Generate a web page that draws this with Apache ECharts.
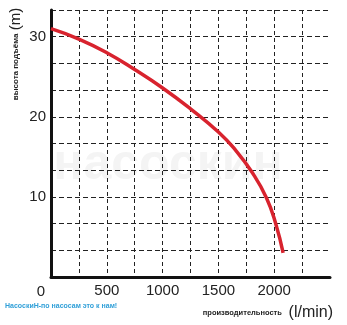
<!DOCTYPE html>
<html><head><meta charset="utf-8">
<script src="https://cdn.jsdelivr.net/npm/echarts@6/dist/echarts.min.js"></script>
<style>html,body{margin:0;padding:0;background:#fff}#c{width:347px;height:325px}</style>
</head><body><div id="c"></div>
<script>
var flow = [0, 250, 500, 750, 1000, 1250, 1500, 1650, 1800, 1930, 2015, 2080];
var head = [31.0, 29.7, 28.0, 25.9, 23.6, 21.0, 18.1, 15.9, 13.1, 9.9, 6.6, 3.0];
var xLabels = [500, 1000, 1500, 2000];
var yLabels = [10, 20, 30];
var yAxisTitle = 'высота подъёма';
var xAxisTitle = 'производительность';
var unitY = '(m)';
var unitX = '(l/min)';
var footer = 'НасоскиН-по насосам это к нам!';
var watermark = 'насоскин';

var chart = echarts.init(document.getElementById('c'));
var pts = flow.map(function (f, i) { return [f, head[i]]; });
chart.setOption({
  animation: false,
  backgroundColor: '#fff',
  grid: { left: 51, right: 17, top: 10, bottom: 48 },
  xAxis: {
    type: 'value', min: 0, max: 2500, interval: 250,
    axisLine: { show: true, lineStyle: { color: '#111', width: 3 } },
    axisTick: { show: false },
    splitLine: { show: true, showMinLine: false, showMaxLine: false, lineStyle: { color: '#222', width: 1, type: [4, 3] } },
    axisLabel: {
      margin: 6, color: '#222', fontSize: 15, fontFamily: 'Liberation Sans, Arial',
      showMaxLabel: false,
      formatter: function (v) { return xLabels.indexOf(Math.round(v)) >= 0 ? String(Math.round(v)) : ''; }
    }
  },
  yAxis: {
    type: 'value', min: 0, max: 100 / 3, interval: 10 / 3,
    axisLine: { show: true, lineStyle: { color: '#111', width: 3 } },
    axisTick: { show: false },
    splitLine: { show: true, showMinLine: false, showMaxLine: false, lineStyle: { color: '#222', width: 1, type: [5, 3] } },
    axisLabel: {
      margin: 5, color: '#222', fontSize: 15, fontFamily: 'Liberation Sans, Arial',
      formatter: function (v) { var r = Math.round(v); return (Math.abs(v - r) < 0.01 && yLabels.indexOf(r) >= 0) ? String(r) : ''; }
    }
  },
  graphic: [
    { type: 'text', x: 168, y: 165, z: -10, silent: true,
      style: { text: watermark, fill: '#f4f4f4', font: 'bold 50px "Liberation Sans", Arial', align: 'center', verticalAlign: 'middle' } },
    { type: 'text', x: 41, y: 292,
      style: { text: '0', fill: '#222', font: '15px "Liberation Sans", Arial', align: 'center', verticalAlign: 'middle' } },
    { type: 'text', x: 16, y: 54, rotation: Math.PI / 2,
      style: { text: '{s|' + yAxisTitle + '} {b|' + unitY + '}', align: 'center', verticalAlign: 'middle',
        rich: { s: { font: 'bold 8px "Liberation Sans", Arial', fill: '#222' }, b: { font: '15px "Liberation Sans", Arial', fill: '#222' } } } },
    { type: 'text', x: 333, y: 313,
      style: { text: '{s|' + xAxisTitle + '}  {b|' + unitX + '}', align: 'right', verticalAlign: 'middle',
        rich: { s: { font: 'bold 7.5px "Liberation Sans", Arial', fill: '#222' }, b: { font: '16px "Liberation Sans", Arial', fill: '#222' } } } },
    { type: 'text', x: 5, y: 306,
      style: { text: footer, fill: '#2f9fd8', font: 'bold 7px "Liberation Sans", Arial', align: 'left', verticalAlign: 'middle' } }
  ],
  series: [{
    type: 'line', data: pts, smooth: true, showSymbol: false, symbol: 'none',
    lineStyle: { color: '#d8232e', width: 3.5 }, z: 5
  }]
});
</script></body></html>
